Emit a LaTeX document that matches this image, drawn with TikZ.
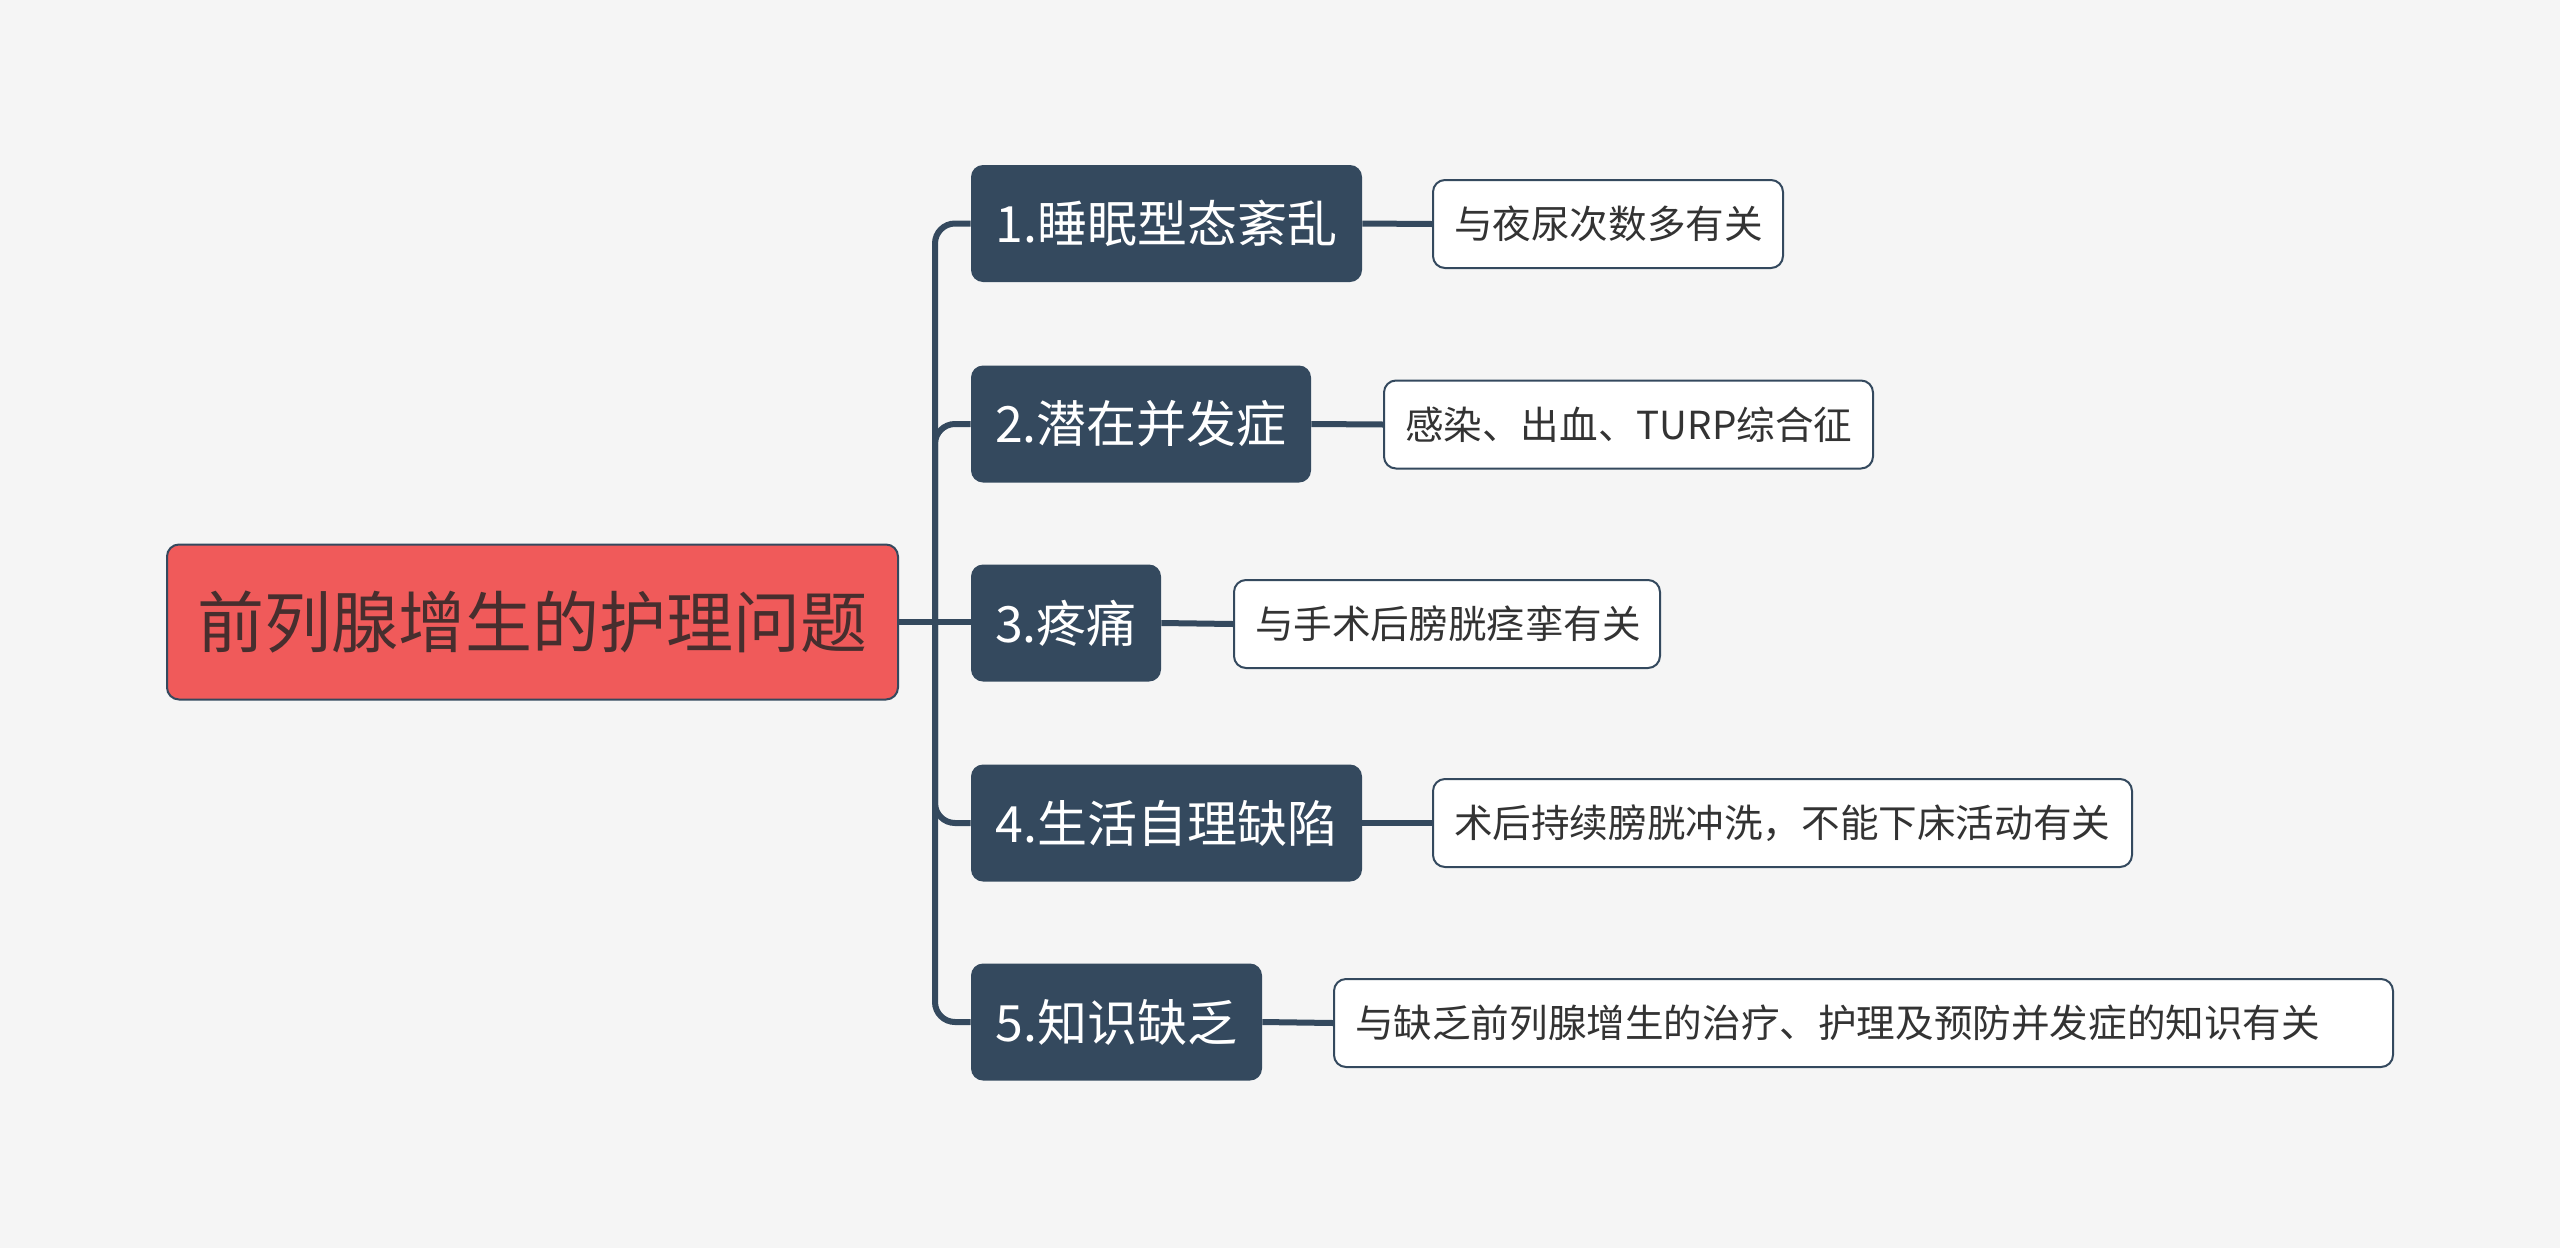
\documentclass[tikz,border=0pt]{standalone}
\usepackage{fontspec}
\newfontfamily\cjk{Noto Sans CJK SC}
\definecolor{bgcol}{HTML}{F5F5F5}
\definecolor{navy}{HTML}{34495E}
\definecolor{rootred}{HTML}{F05A5A}
\definecolor{ink}{HTML}{333333}
\begin{document}
\begin{tikzpicture}[x=0.5pt, y=-0.5pt,
		root/.style = {draw=navy, line width=1pt, fill=rootred, rounded corners=6pt, text=ink!90!red,
			font=\cjk\fontsize{33.5}{40}\selectfont, minimum height=77.5pt},
		topic/.style = {fill=navy, rounded corners=6pt, text=white,
			font=\cjk\fontsize{25}{30}\selectfont, minimum height=58.5pt, inner xsep=0pt},
		leaf/.style = {draw=navy, line width=1pt, fill=white, rounded corners=6pt, text=ink,
			font=\cjk\fontsize{19.3}{23}\selectfont, minimum height=44pt, inner xsep=10.5pt,
			align=left, text width=#1},
		link/.style = {draw=navy, line width=3pt, rounded corners=10pt}]
			\fill[bgcol] (0,0) rectangle (2560,1248);
			\useasboundingbox (0,0) rectangle (2560,1248);
			
			\node[root, minimum width=365.5pt] (r) at (532.5,622) {前列腺增生的护理问题};
			\coordinate (trunk) at (935,622);
			
			\node[topic, minimum width=195.5pt] (b1) at (1166.5,223.5) {1.睡眠型态紊乱};
			\node[topic, minimum width=170pt] (b2) at (1141,424) {2.潜在并发症};
			\node[topic, minimum width=95pt] (b3) at (1066,623) {3.疼痛};
			\node[topic, minimum width=195.5pt] (b4) at (1166.5,823) {4.生活自理缺陷};
			\node[topic, minimum width=145.5pt] (b5) at (1116.5,1022) {5.知识缺乏};
			
			\node[leaf=154pt] (l1) at (1608,224) {与夜尿次数多有关};
			\node[leaf=223.5pt] (l2) at (1628.5,424.5) {感染、出血、TURP综合征};
			\node[leaf=192pt] (l3) at (1447,624) {与手术后膀胱痉挛有关};
			\node[leaf=328.5pt] (l4) at (1782.5,823) {术后持续膀胱冲洗，不能下床活动有关};
			\node[leaf=508.5pt] (l5) at (1863.5,1023) {与缺乏前列腺增生的治疗、护理及预防并发症的知识有关};
			
			\draw[link] (r.east) -- (trunk);
			\foreach \b in {b1,b2,b4,b5}
				\draw[link] (trunk) |- (\b.west);
			\draw[link] (trunk) -- (b3.west |- trunk);
			\foreach \i in {1,...,5}
				\draw[link] (b\i.east) -- (l\i.west);
		\end{tikzpicture}
\end{document}
